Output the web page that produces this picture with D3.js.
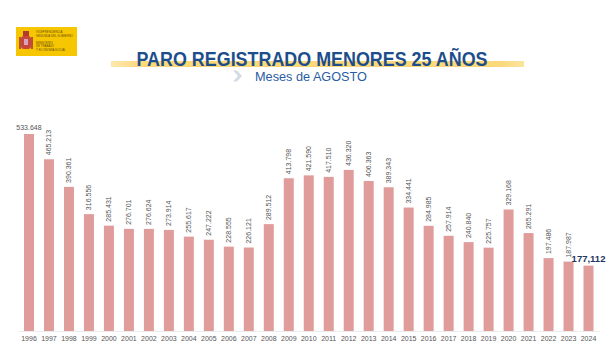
<!DOCTYPE html>
<html><head><meta charset="utf-8">
<script src="https://cdn.jsdelivr.net/npm/d3@7/dist/d3.min.js"></script>
<style>html,body{margin:0;padding:0;background:#fff;}svg{display:block;}</style>
</head><body>
<script>
const years = ["1996","1997","1998","1999","2000","2001","2002","2003","2004","2005","2006","2007","2008","2009","2010","2011","2012","2013","2014","2015","2016","2017","2018","2019","2020","2021","2022","2023","2024"];
const values = [533648,465213,390361,316556,285431,276701,276624,273914,255617,247222,228555,226121,289512,413798,421590,417510,436320,406363,389343,334441,284985,257914,240840,225757,329168,265291,197486,187987,177112];
const titleText = "PARO REGISTRADO MENORES 25 AÑOS";
const subtitleText = "Meses de AGOSTO";

const W = 616, H = 358;
const svg = d3.select("body").append("svg").attr("width", W).attr("height", H);
const font = "'Liberation Sans', Arial, sans-serif";

// Logo
const logo = svg.append("g");
logo.append("rect").attr("x",16).attr("y",27).attr("width",61).attr("height",29).attr("fill","#f6c700");
logo.append("rect").attr("x",21).attr("y",36).attr("width",10).attr("height",13).attr("rx",3).attr("fill","#c8453a");
logo.append("rect").attr("x",23).attr("y",31).attr("width",6).attr("height",5).attr("fill","#b03a30");
logo.append("rect").attr("x",19).attr("y",37).attr("width",2).attr("height",12).attr("fill","#b5533a");
logo.append("rect").attr("x",31).attr("y",37).attr("width",2).attr("height",12).attr("fill","#b5533a");
logo.append("rect").attr("x",24).attr("y",39).attr("width",4).attr("height",6).attr("fill","#d9a0c0");
const ltxt = ["VICEPRESIDENCIA","SEGUNDA DEL GOBIERNO","","MINISTERIO","DE TRABAJO","Y ECONOMÍA SOCIAL"];
ltxt.forEach((t,i)=>{ if(t) logo.append("text").attr("x",36).attr("y",33+i*3.6).attr("font-size",2.9).attr("font-family",font).attr("fill","#6a4a10").text(t);});

// Title band
const grad = svg.append("defs").append("linearGradient").attr("id","band");
grad.append("stop").attr("offset","0%").attr("stop-color","#fbd878").attr("stop-opacity",0.6);
grad.append("stop").attr("offset","8%").attr("stop-color","#fbd878").attr("stop-opacity",1);
grad.append("stop").attr("offset","94%").attr("stop-color","#fbd878").attr("stop-opacity",1);
grad.append("stop").attr("offset","100%").attr("stop-color","#fbd878").attr("stop-opacity",0.7);
svg.append("rect").attr("x",111).attr("y",61).attr("width",413).attr("height",6).attr("fill","url(#band)");
svg.append("text").attr("x",312).attr("y",65.5).attr("text-anchor","middle")
  .attr("font-family",font).attr("font-weight","bold").attr("font-size",20)
  .attr("textLength",351).attr("lengthAdjust","spacingAndGlyphs")
  .attr("fill","#1d4e8b").text(titleText);
// chevron
svg.append("path").attr("d","M233,70.5 L237,70.5 L242,76 L237,81.5 L233,81.5 L238,76 Z").attr("fill","#d3dbe8");
svg.append("text").attr("x",255).attr("y",80.5).attr("font-family",font).attr("font-size",12.2)
  .attr("textLength",112).attr("lengthAdjust","spacingAndGlyphs")
  .attr("fill","#2a5d9f").text(subtitleText);

// Scales
const x = d3.scaleBand().domain(years).range([19, 598.5]).paddingInner(0.5).paddingOuter(0.25);
const y = d3.scaleLinear().domain([0, 533648]).range([331, 134]);
const fmt = v => d3.format(",")(v).replace(/,/g, ".");

// baseline
svg.append("line").attr("x1",19).attr("x2",600).attr("y1",331.5).attr("y2",331.5).attr("stroke","#ececec").attr("stroke-width",1);

// bars
svg.append("g").selectAll("rect").data(years).join("rect")
  .attr("x", d => x(d)).attr("width", x.bandwidth())
  .attr("y", (d,i) => y(values[i])).attr("height", (d,i) => y(0) - y(values[i]))
  .attr("fill", "#e09c9b");

// x axis
const xAxis = svg.append("g").attr("transform","translate(0,331)").call(d3.axisBottom(x).tickSize(0).tickPadding(5));
xAxis.select(".domain").remove();
xAxis.selectAll("text").attr("font-family",font).attr("font-size",7).attr("fill","#555");

// value labels
const n = years.length;
const lab = svg.append("g");
years.forEach((yr,i) => {
  const cx = x(yr) + x.bandwidth()/2;
  const ty = y(values[i]);
  if (i === 0) {
    lab.append("text").attr("x",cx).attr("y",ty-4).attr("text-anchor","middle")
      .attr("font-family",font).attr("font-size",7).attr("fill","#555").text(fmt(values[i]));
  } else if (i === n-1) {
    lab.append("text").attr("x",cx).attr("y",ty-4).attr("text-anchor","middle")
      .attr("font-family",font).attr("font-size",9.5).attr("font-weight","bold").attr("fill","#1f3560")
      .text(d3.format(",")(values[i]));
  } else {
    lab.append("text").attr("transform",`translate(${cx+2.5},${ty-4}) rotate(-90)`)
      .attr("font-family",font).attr("font-size",7).attr("fill","#555").text(fmt(values[i]));
  }
});
</script>
</body></html>
